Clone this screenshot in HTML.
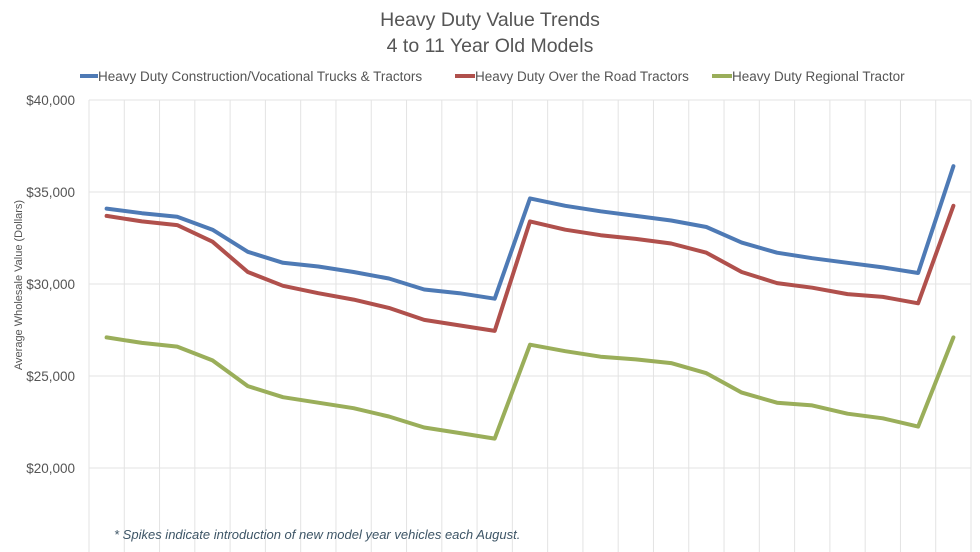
<!DOCTYPE html>
<html><head><meta charset="utf-8"><style>
html,body{margin:0;padding:0;background:#fff;}
svg{display:block;font-family:"Liberation Sans",sans-serif;}
</style></head><body>
<svg id="c" width="980" height="552" viewBox="0 0 980 552" xmlns="http://www.w3.org/2000/svg">
<rect width="980" height="552" fill="#fff"/>
<text x="490" y="26" text-anchor="middle" font-size="19.5" fill="#555">Heavy Duty Value Trends</text>
<text x="490" y="52" text-anchor="middle" font-size="19.5" fill="#555">4 to 11 Year Old Models</text>
<g font-size="13.5" fill="#555">
<line x1="80" y1="76" x2="98" y2="76" stroke="#4e7ab5" stroke-width="4"/>
<text x="98" y="81">Heavy Duty Construction/Vocational Trucks &amp; Tractors</text>
<line x1="455" y1="76" x2="475" y2="76" stroke="#b0504c" stroke-width="4"/>
<text x="475" y="81">Heavy Duty Over the Road Tractors</text>
<line x1="712" y1="76" x2="732" y2="76" stroke="#9aae5a" stroke-width="4"/>
<text x="732" y="81">Heavy Duty Regional Tractor</text>
</g>
<g id="grid" stroke="#e3e3e3" stroke-width="1"></g>
<g font-size="13.5" fill="#555" text-anchor="end">
<text x="75" y="105">$40,000</text>
<text x="75" y="197">$35,000</text>
<text x="75" y="289">$30,000</text>
<text x="75" y="381">$25,000</text>
<text x="75" y="473">$20,000</text>
</g>
<text transform="translate(22,285) rotate(-90)" text-anchor="middle" font-size="11" fill="#555">Average Wholesale Value (Dollars)</text>
<text x="114" y="539" font-size="13" font-style="italic" fill="#3d5566">* Spikes indicate introduction of new model year vehicles each August.</text>
<g id="lines" fill="none" stroke-width="4" stroke-linejoin="round" stroke-linecap="round"></g>
</svg>
<script>
var ns="http://www.w3.org/2000/svg";
var g=document.getElementById('grid');
function ln(x1,y1,x2,y2){var l=document.createElementNS(ns,'line');l.setAttribute('x1',x1);l.setAttribute('y1',y1);l.setAttribute('x2',x2);l.setAttribute('y2',y2);g.appendChild(l);}
var L=89,R=971,step=(R-L)/25;
for(var i=0;i<=25;i++){var x=L+step*i;ln(x,100,x,552);}
[100,192,284,376,468].forEach(function(y){ln(L,y,R,y);});
function Y(v){return 100+(40000-v)*92/5000;}
var data=[
["#4e7ab5",[34100,33850,33650,32950,31750,31150,30950,30650,30300,29700,29500,29200,34650,34250,33950,33700,33450,33100,32250,31700,31400,31150,30900,30600,36400]],
["#b0504c",[33700,33400,33200,32300,30650,29900,29500,29150,28700,28050,27750,27450,33400,32950,32650,32450,32200,31700,30650,30050,29800,29450,29300,28950,34250]],
["#9aae5a",[27100,26800,26600,25850,24450,23850,23550,23250,22800,22200,21900,21600,26700,26350,26050,25900,25700,25150,24100,23550,23400,22950,22700,22250,27100]]];
var lg=document.getElementById('lines');
data.forEach(function(d){var p=document.createElementNS(ns,'polyline');
p.setAttribute('points',d[1].map(function(v,i){return (L+step*(i+0.5)).toFixed(1)+','+Y(v).toFixed(1);}).join(' '));
p.setAttribute('stroke',d[0]);lg.appendChild(p);});
</script>
</body></html>
